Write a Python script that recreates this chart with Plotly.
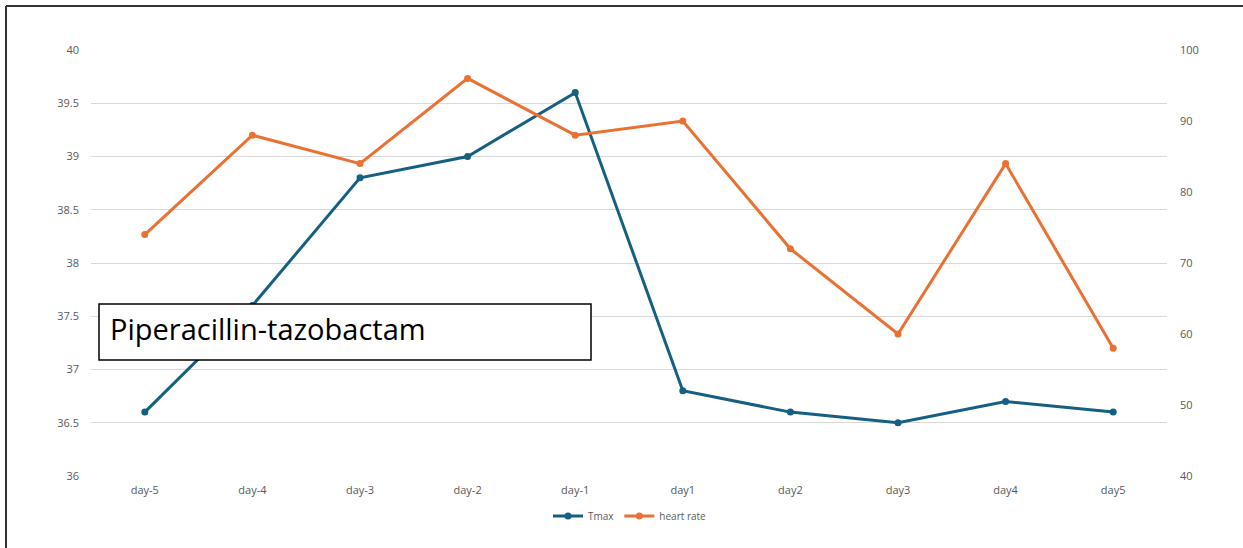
import plotly.graph_objects as go

days = ["day-5", "day-4", "day-3", "day-2", "day-1", "day1", "day2", "day3", "day4", "day5"]
tmax = [36.6, 37.6, 38.8, 39.0, 39.6, 36.8, 36.6, 36.5, 36.7, 36.6]
heart_rate = [74, 88, 84, 96, 88, 90, 72, 60, 84, 58]

BLUE = "#156082"
ORANGE = "#E97132"
TICK_GRAY = "#595959"

W, H = 1243, 548
L, R, T, B = 91, 76, 50, 72
pw, ph = W - L - R, H - T - B


def px_x(x):
    return (x - L) / pw


def px_y(y):
    return (H - B - y) / ph


fig = go.Figure()
fig.add_trace(go.Scatter(
    x=days, y=tmax, name="Tmax", mode="lines+markers",
    line=dict(color=BLUE, width=3), marker=dict(color=BLUE, size=7),
    yaxis="y",
))
fig.add_trace(go.Scatter(
    x=days, y=heart_rate, name="heart rate", mode="lines+markers",
    line=dict(color=ORANGE, width=3), marker=dict(color=ORANGE, size=7),
    yaxis="y2",
))

tick_font = dict(family="Open Sans, Arial, sans-serif", size=11, color=TICK_GRAY)

fig.update_layout(
    width=W, height=H,
    margin=dict(l=L, r=R, t=T, b=B),
    paper_bgcolor="white", plot_bgcolor="white",
    xaxis=dict(
        type="category", range=[-0.5, len(days) - 0.5],
        showgrid=False, zeroline=False, showline=False,
        tickfont=tick_font, ticks="", ticklabelstandoff=6,
    ),
    yaxis=dict(
        range=[36, 40], dtick=0.5, tick0=36,
        showgrid=True, gridcolor="#D9D9D9", gridwidth=1,
        zeroline=False, showline=False,
        tickfont=tick_font, ticks="", ticklabelstandoff=11,
    ),
    yaxis2=dict(
        range=[40, 100], dtick=10, tick0=40,
        overlaying="y", side="right",
        showgrid=False, zeroline=False, showline=False,
        tickfont=tick_font, ticks="", ticklabelstandoff=12,
    ),
    legend=dict(
        orientation="h", x=px_x(630), xanchor="center",
        y=px_y(516), yanchor="middle",
        font=dict(family="Open Sans, Arial, sans-serif", size=10, color=TICK_GRAY),
        itemwidth=30, bgcolor="rgba(0,0,0,0)",
    ),
    showlegend=True,
)

# Drug label box drawn over the lines
fig.add_shape(
    type="rect", xref="paper", yref="paper",
    x0=px_x(99), x1=px_x(591), y0=px_y(360), y1=px_y(304),
    line=dict(color="black", width=1.5), fillcolor="white", layer="above",
)
fig.add_annotation(
    xref="paper", yref="paper", x=px_x(108), y=px_y(328),
    xanchor="left", yanchor="middle", showarrow=False,
    text="Piperacillin-tazobactam",
    font=dict(family="Open Sans, Arial, sans-serif", size=29, color="black"),
)

# Outer frame lines (top and left)
fig.add_shape(type="line", xref="paper", yref="paper",
              x0=px_x(6), x1=px_x(W + 5), y0=px_y(6), y1=px_y(6),
              line=dict(color="#333333", width=2), layer="above")
fig.add_shape(type="line", xref="paper", yref="paper",
              x0=px_x(6), x1=px_x(6), y0=px_y(6), y1=px_y(H + 5),
              line=dict(color="#333333", width=2), layer="above")

fig.write_html("out.html")
